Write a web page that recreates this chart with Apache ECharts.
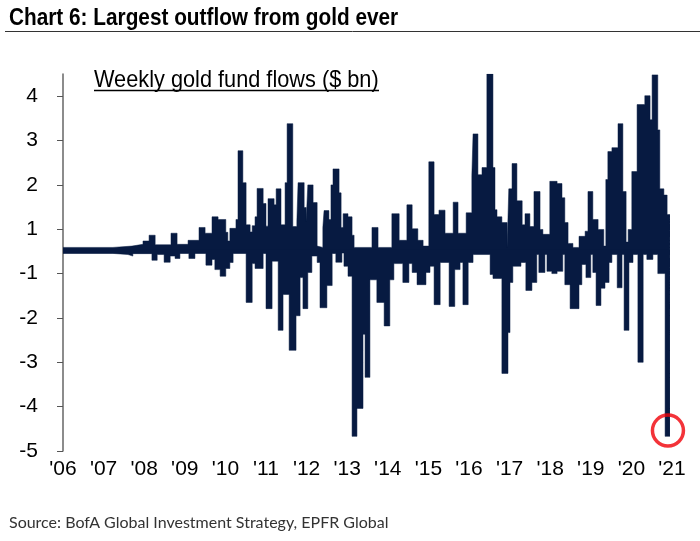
<!DOCTYPE html>
<html>
<head>
<meta charset="utf-8">
<style>html,body{margin:0;padding:0;background:#fff}#main{width:700px;height:541px}</style>
<script src="https://cdn.jsdelivr.net/npm/echarts@6/dist/echarts.min.js"></script>
</head>
<body>
<div id="main"></div>
<script>
// [year, $bn], each entry is the left edge of a visible block
var inflows = [
  [2006.00,0.18],[2007.23,0.24],[2007.70,0.32],[2007.97,0.47],[2008.12,0.73],[2008.27,0.30],[2008.66,0.82],[2008.81,0.32],
  [2009.08,0.50],[2009.35,1.04],[2009.50,0.82],[2009.67,1.28],[2009.82,1.22],[2010.01,0.86],[2010.06,0.47],[2010.11,1.02],
  [2010.26,1.22],[2010.31,2.77],[2010.43,2.05],[2010.51,1.10],[2010.61,0.88],[2010.66,1.08],[2010.73,1.28],[2010.78,1.92],
  [2010.93,1.58],[2011.00,1.07],[2011.05,1.69],[2011.20,1.55],[2011.25,1.91],[2011.37,1.10],[2011.47,2.05],[2011.52,3.38],
  [2011.66,1.06],[2011.76,1.18],[2011.79,2.05],[2011.94,1.49],[2011.99,1.18],[2012.03,2.00],[2012.16,1.60],[2012.26,0.24],
  [2012.28,0.18],[2012.40,1.04],[2012.43,1.42],[2012.55,1.22],[2012.60,2.00],[2012.65,2.36],[2012.80,1.82],[2012.85,1.04],
  [2012.90,1.35],[2013.02,1.28],[2013.12,0.73],[2013.17,0.18],[2013.61,1.04],[2013.76,0.18],[2014.10,1.35],[2014.28,0.50],
  [2014.47,1.55],[2014.60,1.01],[2014.74,0.50],[2014.87,0.24],[2015.01,2.52],[2015.14,1.33],[2015.26,1.43],[2015.41,0.82],
  [2015.61,1.61],[2015.73,0.82],[2015.93,1.37],[2016.07,2.21],[2016.10,3.15],[2016.22,2.23],[2016.32,2.39],[2016.44,4.50],
  [2016.59,2.39],[2016.64,1.44],[2016.69,1.28],[2016.81,1.15],[2016.94,0.18],[2016.98,1.91],[2017.06,2.48],[2017.18,1.64],
  [2017.31,1.10],[2017.38,1.35],[2017.50,1.06],[2017.60,1.85],[2017.75,0.99],[2017.82,0.77],[2017.99,2.08],[2018.17,2.03],
  [2018.29,1.71],[2018.36,1.15],[2018.44,0.36],[2018.56,0.18],[2018.71,0.68],[2018.86,0.91],[2018.93,1.85],[2019.05,1.22],
  [2019.18,0.99],[2019.32,0.24],[2019.37,2.12],[2019.42,2.75],[2019.52,2.84],[2019.67,3.38],[2019.79,1.85],[2019.87,0.42],
  [2019.92,0.99],[2020.01,2.30],[2020.14,3.81],[2020.33,4.01],[2020.46,3.47],[2020.51,4.48],[2020.65,3.24],[2020.70,1.91],
  [2020.80,1.77],[2020.88,1.33],[2020.95,1.33]
];
var outflows = [
  [2006.00,-0.09],[2007.23,-0.14],[2007.60,-0.21],[2007.72,-0.10],[2008.19,-0.40],[2008.32,-0.14],[2008.49,-0.49],[2008.64,-0.21],
  [2008.76,-0.32],[2008.88,-0.09],[2009.10,-0.32],[2009.25,-0.09],[2009.52,-0.62],[2009.67,-0.36],[2009.74,-0.82],[2009.87,-1.06],
  [2010.01,-0.77],[2010.11,-0.50],[2010.19,-0.09],[2010.51,-1.65],[2010.66,-0.55],[2010.73,-0.77],[2010.93,-0.09],[2011.00,-1.79],
  [2011.15,-0.44],[2011.30,-2.28],[2011.42,-1.47],[2011.57,-2.73],[2011.74,-1.95],[2011.84,-1.09],[2011.91,-1.79],[2012.03,-0.95],
  [2012.13,-0.21],[2012.26,-0.50],[2012.33,-1.77],[2012.50,-1.27],[2012.63,-0.09],[2012.72,-0.49],[2012.87,-0.05],[2012.92,-0.67],
  [2013.02,-1.06],[2013.12,-4.67],[2013.24,-4.04],[2013.39,-2.37],[2013.44,-3.34],[2013.56,-1.14],[2013.73,-1.65],[2013.91,-2.18],
  [2014.05,-1.14],[2014.15,-0.55],[2014.37,-1.20],[2014.52,-0.55],[2014.60,-0.95],[2014.72,-1.25],[2014.94,-0.95],[2015.04,-0.67],
  [2015.14,-1.70],[2015.29,-0.50],[2015.51,-1.74],[2015.65,-0.82],[2015.78,-0.50],[2015.85,-1.70],[2015.98,-0.50],[2016.10,-0.14],
  [2016.52,-1.02],[2016.59,-1.11],[2016.81,-3.25],[2016.96,-2.33],[2017.01,-1.20],[2017.08,-0.67],[2017.28,-0.50],[2017.40,-1.38],
  [2017.55,-1.20],[2017.67,-0.14],[2017.72,-0.95],[2017.87,-0.14],[2017.92,-0.90],[2018.04,-1.00],[2018.17,-0.90],[2018.31,-0.14],
  [2018.36,-1.25],[2018.49,-1.79],[2018.71,-1.25],[2018.78,-0.59],[2018.88,-1.09],[2019.00,-0.14],[2019.05,-0.95],[2019.13,-1.72],
  [2019.25,-1.33],[2019.35,-1.20],[2019.45,-0.50],[2019.52,-0.14],[2019.65,-1.32],[2019.77,-0.14],[2019.82,-2.28],[2019.94,-0.50],
  [2020.04,-0.14],[2020.16,-3.00],[2020.29,-0.14],[2020.38,-0.36],[2020.53,-0.14],[2020.65,-1.00],[2020.83,-4.67],[2020.95,-4.67]
];
var recordOutflow = [[2020.90,-4.54]];
var yTicks = [4, 3, 2, 1, -1, -2, -3, -4, -5];

var navy = '#071a41';

// the picture spaces 1 and -1 one tick apart, so 0 sits half way between them
function toAxis(v) {
    if (v >= 1) return v;
    if (v <= -1) return v + 1;
    return (v + 1) / 2;
}
function toSeries(points) {
    return points.map(function (p) { return [p[0], toAxis(p[1])]; });
}
function flowSeries(points, base) {
    return {
        type: 'line',
        step: 'end',
        data: toSeries(points),
        showSymbol: false,
        silent: true,
        lineStyle: { width: 0.5, color: navy },
        areaStyle: { color: navy, opacity: 1, origin: toAxis(base) }
    };
}

var myChart = echarts.init(document.getElementById('main'), null, { renderer: 'canvas' });
var sans = '"Liberation Sans", sans-serif';

myChart.setOption({
    animation: false,
    backgroundColor: '#fff',
    graphic: [
        { type: 'text', x: 9, y: 18, scaleX: 0.866,
          style: { text: 'Chart 6: Largest outflow from gold ever', font: 'bold 24px ' + sans, fill: '#000', verticalAlign: 'middle' } },
        { type: 'line', shape: { x1: 5, y1: 31.5, x2: 700, y2: 31.5 }, style: { stroke: '#333', lineWidth: 1 } },
        { type: 'text', x: 94, y: 80, scaleX: 0.887,
          style: { text: 'Weekly gold fund flows ($ bn)', font: '24.5px ' + sans, fill: '#000', verticalAlign: 'middle' } },
        { type: 'line', shape: { x1: 94, y1: 90.5, x2: 379, y2: 90.5 }, style: { stroke: '#000', lineWidth: 1.5 } },
        { type: 'text', x: 9, y: 523,
          style: { text: 'Source: BofA Global Investment Strategy, EPFR Global', font: '16px Lato, "Noto Sans", sans-serif', fill: '#333', verticalAlign: 'middle' } }
    ],
    grid: { left: 63, right: 28, top: 74, bottom: 90 },
    xAxis: {
        type: 'value',
        min: 2006,
        max: 2021,
        interval: 1,
        splitLine: { show: false },
        axisLine: { show: false },
        axisTick: { show: false },
        axisLabel: {
            margin: 8,
            fontFamily: sans,
            fontSize: 21,
            color: '#000',
            formatter: function (v) { return "'" + String(v).slice(2); }
        }
    },
    yAxis: {
        type: 'value',
        min: -4,
        max: 4.5,
        interval: 1,
        splitLine: { show: false },
        axisLine: { show: true, onZero: false, lineStyle: { color: '#666', width: 1.5 } },
        axisTick: { show: true, length: 6, lineStyle: { color: '#555', width: 1 } },
        axisLabel: {
            margin: 25,
            fontFamily: sans,
            fontSize: 21,
            color: '#000',
            showMaxLabel: false,
            formatter: function (p) { return yTicks[4 - p] === undefined ? '' : String(yTicks[4 - p]); }
        }
    },
    series: [
        // bases overlap a little so no white seam shows along zero
        flowSeries(inflows, -0.08),
        flowSeries(outflows, 0.08),
        {
            type: 'scatter',
            data: toSeries(recordOutflow),
            symbol: 'circle',
            symbolSize: 31,
            silent: true,
            z: 5,
            itemStyle: { color: 'rgba(0,0,0,0)', borderColor: '#f00008', borderWidth: 3.5 }
        }
    ]
});
</script>
</body>
</html>
